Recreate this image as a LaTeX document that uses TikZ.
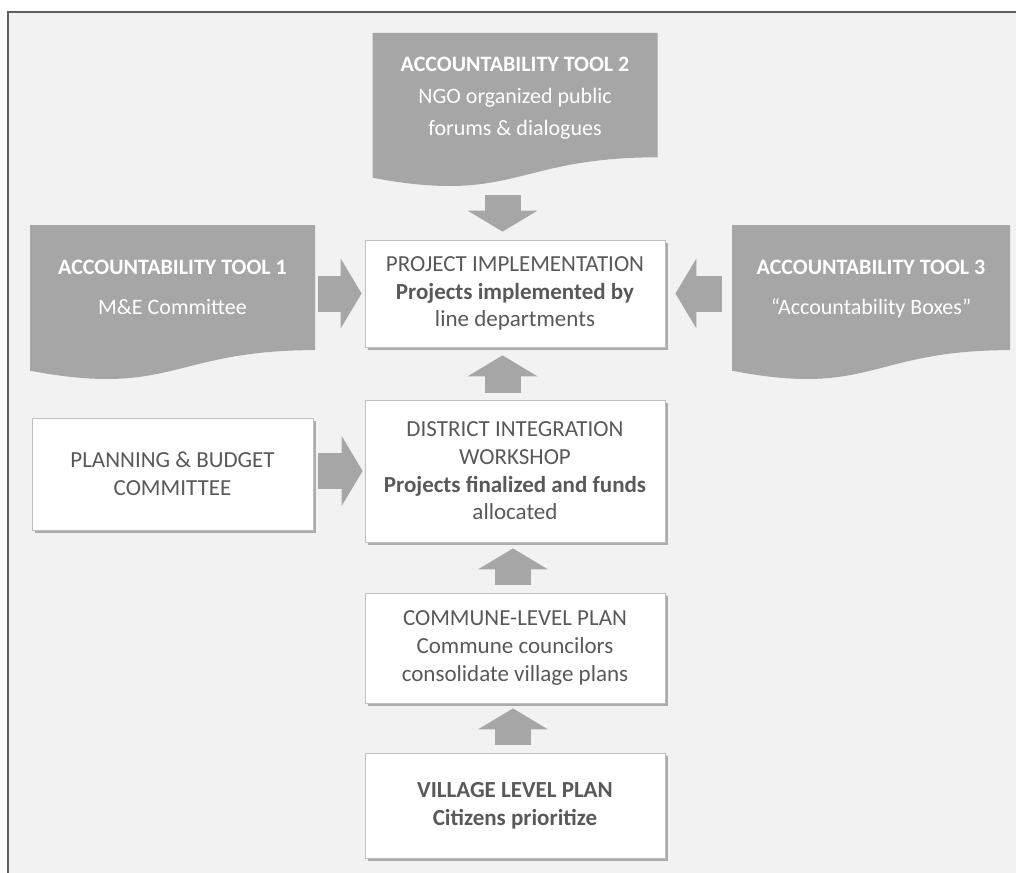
\documentclass[tikz,border=0pt]{standalone}
\usepackage{fontspec}
\setmainfont{Carlito}
\usetikzlibrary{arrows.meta,positioning,calc,shadows}
\definecolor{bggray}{HTML}{F2F2F2}
\definecolor{framegray}{HTML}{606060}
\definecolor{toolgray}{HTML}{A6A6A6}
\definecolor{txtgray}{HTML}{595959}
\tikzset{
	box/.style={draw=gray!50,fill=white,align=center,text=txtgray,
		font=\fontsize{11.5}{13.8}\selectfont,
		drop shadow={shadow xshift=1.5pt,shadow yshift=-1.5pt,fill=gray!65,opacity=1}},
	tool/.style={align=center,text=white,font=\fontsize{11}{16}\selectfont,text depth=14pt,
		path picture={
			\fill[toolgray] let \p1=(path picture bounding box.north west),
				\p2=(path picture bounding box.south east) in
				(\x1,\y1) -- (\x2,\y1) -- (\x2,{\y1+0.802*(\y2-\y1)})
				.. controls ({0.5*(\x1+\x2)},{\y1+0.802*(\y2-\y1)}) and ({0.5*(\x1+\x2)},{\y1+1.107*(\y2-\y1)})
				.. (\x1,{\y1+0.934*(\y2-\y1)}) -- cycle;
		}},
	bigarrow/.style={draw=toolgray,line width=18pt,-{Triangle[length=10.5pt,width=35pt,line width=0pt]}}
}
\begin{document}
\begin{tikzpicture}[x=0.5pt,y=-0.5pt]
	\useasboundingbox (0,0) rectangle (1016,872);
	\fill[bggray] (8,12) rectangle (1030,890);
	\draw[framegray,line width=1.2pt] (1030,12) -- (8,12) -- (8,890);

	% accountability tools
	\node[tool,minimum width=142.5pt,minimum height=77.5pt] (tool2) at (515,110.5)
		{{\bfseries ACCOUNTABILITY TOOL 2}\\NGO organized public\\forums \& dialogues};
	\node[tool,minimum width=142.5pt,minimum height=78pt,text depth=16pt] (tool1) at (172.5,303)
		{{\bfseries ACCOUNTABILITY TOOL 1}\\[4pt]M\&E Committee};
	\node[tool,minimum width=139pt,minimum height=78pt,text depth=16pt] (tool3) at (871,303)
		{{\bfseries ACCOUNTABILITY TOOL 3}\\[4pt]“Accountability Boxes”};

	% planning steps
	\node[box,minimum width=150pt,minimum height=53.5pt] (impl) at (515,293.5)
		{PROJECT IMPLEMENTATION\\\bfseries Projects implemented by\\line departments};
	\node[box,minimum width=150pt,minimum height=71pt] (district) at (515,471)
		{DISTRICT INTEGRATION\\WORKSHOP\\\bfseries Projects finalized and funds\\allocated};
	\node[box,minimum width=150pt,minimum height=55pt] (commune) at (515,648)
		{COMMUNE-LEVEL PLAN\\Commune councilors\\consolidate village plans};
	\node[box,minimum width=150pt,minimum height=52.5pt,font=\fontsize{11.5}{13.8}\selectfont\bfseries] (village) at (515,805.5)
		{VILLAGE LEVEL PLAN\\Citizens prioritize};
	\node[box,minimum width=140.5pt,minimum height=56pt] (planning) at (172.5,474)
		{PLANNING \& BUDGET\\COMMITTEE};

	\draw[bigarrow,shorten <=3.5pt,shorten >=4pt] ([xshift=-6.25pt]tool2.south) -- ([xshift=-6.25pt]impl.north);
	\draw[bigarrow,shorten <=1.5pt,shorten >=1.5pt] (tool1.east |- impl.west) -- (impl.west);
	\draw[bigarrow,shorten <=5pt,shorten >=5pt] (tool3.west |- impl.east) -- (impl.east);
	\draw[bigarrow,shorten <=3.5pt,shorten >=4pt] ([xshift=-6.25pt]district.north) -- ([xshift=-6.25pt]impl.south);
	\draw[bigarrow,shorten <=2.5pt,shorten >=1pt] (planning.east |- district.west) -- (district.west);
	\draw[bigarrow,shorten <=4pt,shorten >=3pt] ([xshift=-1pt]commune.north) -- ([xshift=-1pt]district.south);
	\draw[bigarrow,shorten <=4pt,shorten >=2.5pt] ([xshift=-1pt]village.north) -- ([xshift=-1pt]commune.south);
\end{tikzpicture}
\end{document}
